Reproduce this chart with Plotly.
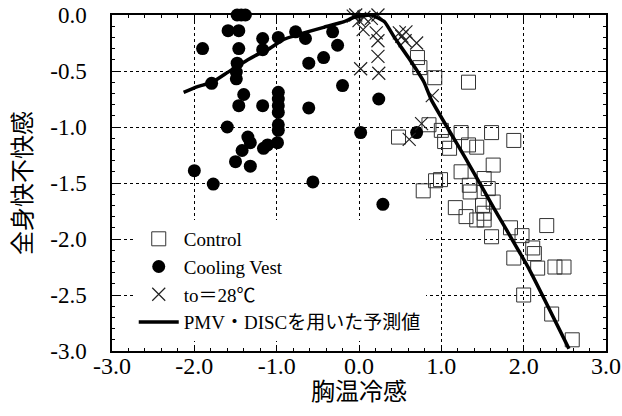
import plotly.graph_objects as go

# --- data ---
control_x = [0.71, 0.74, 0.92, 1.33, 0.85, 0.48, 1.00, 1.04, 1.10, 1.24, 1.33, 1.43, 1.61, 1.88,
             1.24, 1.63, 0.93, 0.99, 0.78, 1.34, 1.35, 1.52, 1.57, 1.17, 1.50, 1.30, 1.43, 1.52,
             1.52, 1.63, 1.61, 1.84, 1.98, 2.11, 2.13, 2.28, 1.88, 2.17, 2.38, 2.49, 2.00, 2.34, 2.59]
control_y = [-0.38, -0.47, -0.56, -0.60, -0.98, -1.09, -1.03, -1.13, -1.19, -1.05, -1.16, -1.18, -1.05, -1.12,
             -1.40, -1.34, -1.48, -1.47, -1.57, -1.52, -1.58, -1.46, -1.55, -1.72, -1.70, -1.80, -1.83, -1.83,
             -1.77, -1.67, -1.98, -1.90, -1.97, -2.08, -2.13, -1.88, -2.17, -2.26, -2.25, -2.25, -2.50, -2.67, -2.90]

vest_x = [-1.48, -1.43, -1.38, -1.59, -1.46, -1.90, -1.46, -1.48, -1.49, -1.49, -1.79, -1.40, -1.46, -1.17,
          -0.98, -0.98, -0.98, -0.98, -0.61, -1.60, -0.98, -0.98, -1.35, -1.32, -1.42, -1.16, -1.11, -0.99,
          -1.50, -1.32, -2.00, -1.77, -0.56, -1.17, -1.17, -0.98, -0.77, -0.65, -0.61, -0.32, -0.26, -0.43,
          -0.20, 0.24, 0.02, 0.70, 0.29]
vest_y = [0.00, 0.00, 0.00, -0.14, -0.14, -0.30, -0.30, -0.43, -0.51, -0.57, -0.61, -0.71, -0.81, -0.81,
          -0.69, -0.75, -0.81, -0.87, -0.83, -1.00, -0.98, -1.03, -1.09, -1.14, -1.21, -1.19, -1.16, -1.14,
          -1.31, -1.35, -1.39, -1.51, -1.49, -0.21, -0.31, -0.20, -0.15, -0.21, -0.43, -0.15, -0.27, -0.38,
          -0.63, -0.75, -1.05, -1.05, -1.69]

to28_x = [-0.04, 0.02, 0.06, 0.11, 0.15, 0.18, 0.23, 0.29, 0.42, 0.05, 0.21, 0.23, 0.49, 0.52,
          0.57, 0.56, 0.70, 0.23, 0.02, 0.24, 0.89, 0.76, 0.61, -0.07, 0.00]
to28_y = [0.00, 0.02, -0.02, 0.01, -0.03, 0.02, 0.00, 0.02, 0.02, -0.13, -0.16, -0.23, -0.16, -0.19,
          -0.15, -0.23, -0.25, -0.37, -0.48, -0.52, -0.72, -0.97, -1.11, -0.01, -0.05]

pred_x = [-2.13, -1.96, -1.78, -1.59, -1.35, -1.20, -1.11, -0.92, -0.67, -0.43, -0.18, -0.06, 0.15,
          0.31, 0.43, 0.60, 0.79, 0.88, 1.31, 1.65, 2.06, 2.55]
pred_y = [-0.69, -0.64, -0.60, -0.51, -0.40, -0.34, -0.31, -0.22, -0.16, -0.11, -0.06, -0.02, 0.00,
          -0.06, -0.20, -0.38, -0.60, -0.76, -1.30, -1.74, -2.26, -2.98]

x_ticks = [-3.0, -2.0, -1.0, 0.0, 1.0, 2.0, 3.0]
y_ticks = [0.0, -0.5, -1.0, -1.5, -2.0, -2.5, -3.0]

FONT = "Liberation Serif, Noto Sans CJK JP, serif"

fig = go.Figure()
fig.add_trace(go.Scatter(
    x=control_x, y=control_y, mode="markers", name="Control",
    marker=dict(symbol="square-open", size=14, color="#333333", line=dict(width=1)),
    cliponaxis=False))
fig.add_trace(go.Scatter(
    x=vest_x, y=vest_y, mode="markers", name="Cooling Vest",
    marker=dict(symbol="circle", size=13, color="black"),
    cliponaxis=False))
fig.add_trace(go.Scatter(
    x=to28_x, y=to28_y, mode="markers", name="to＝28℃",
    marker=dict(symbol="x-thin-open", size=13, color="#222222", line=dict(width=1.2)),
    cliponaxis=False))
fig.add_trace(go.Scatter(
    x=pred_x, y=pred_y, mode="lines", name="PMV・DISCを用いた予測値",
    line=dict(color="black", width=3.5, shape="spline", smoothing=0.4)))

axis_common = dict(
    showline=True, linecolor="black", linewidth=1.5, mirror="allticks",
    ticks="inside", ticklen=6, tickcolor="black", tickwidth=1,
    showgrid=True, gridcolor="black", griddash="dot", gridwidth=1,
    zeroline=False, automargin=False,
)

fig.update_xaxes(
    **axis_common, range=[-3, 3], tickvals=x_ticks,
    ticktext=[f"{v:.1f}" for v in x_ticks],
    tickfont=dict(family=FONT, size=24, color="black"),
    minor=dict(dtick=0.2, ticks="inside", ticklen=3, tickcolor="black", showgrid=False),
    title=dict(text="胸温冷感", font=dict(family=FONT, size=24, color="black"), standoff=2),
    ticklabelstandoff=-8,
)
fig.update_yaxes(
    **axis_common, range=[-3, 0], tickvals=y_ticks,
    ticktext=[f"{v:.1f}" for v in y_ticks],
    tickfont=dict(family=FONT, size=23, color="black"),
    minor=dict(dtick=0.1, ticks="inside", ticklen=3, tickcolor="black", showgrid=False),
    title=dict(text="全身快不快感", font=dict(family=FONT, size=24, color="black"), standoff=12),
    ticklabelstandoff=19,
)

fig.update_layout(
    width=622, height=416,
    margin=dict(l=112, r=16, t=15, b=65, autoexpand=False),
    paper_bgcolor="white", plot_bgcolor="white",
    showlegend=True,
    legend=dict(
        x=0.044, y=0.39, xanchor="left", yanchor="top",
        bgcolor="white", borderwidth=0,
        font=dict(family=FONT, size=19, color="black"),
        itemwidth=40, traceorder="normal",
    ),
    font=dict(family=FONT, color="black"),
)

fig.write_html("out.html")
